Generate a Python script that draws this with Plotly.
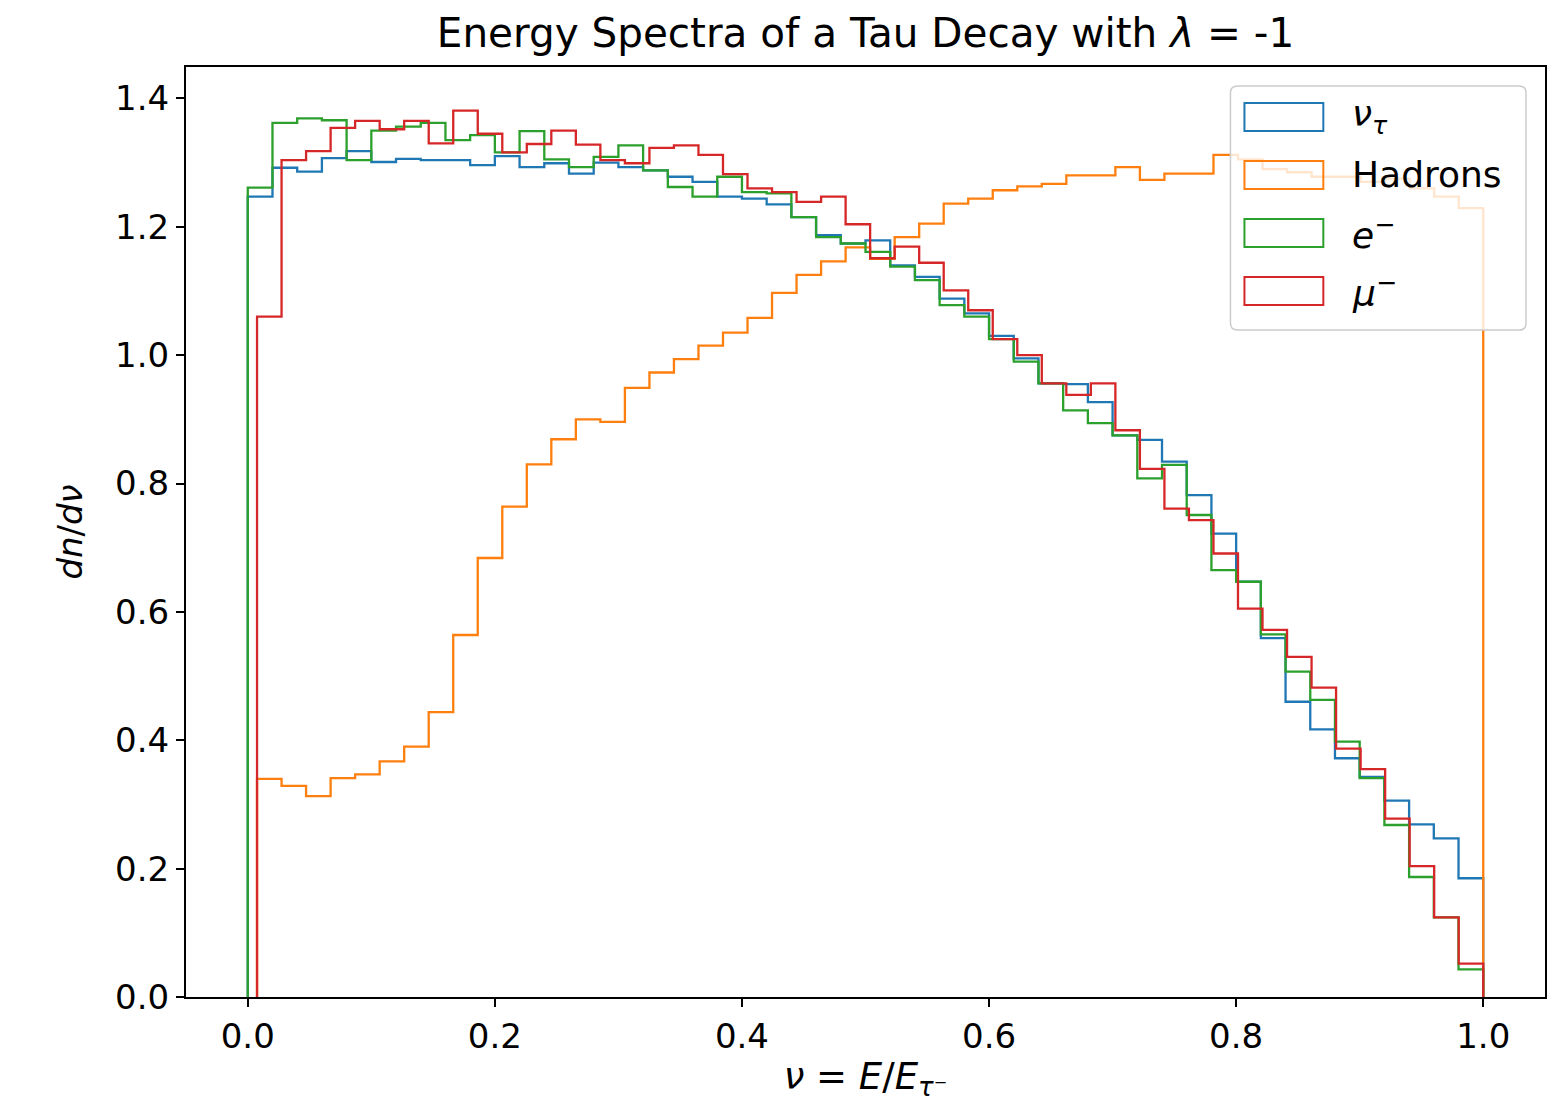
import numpy as np
import plotly.graph_objects as go

# ---------------- data ----------------
n_bins = 50
nu_tau_range = (0.0, 1.0)
hadron_range = (0.0075, 1.0)
electron_range = (0.0, 1.0)
muon_range = (0.0075, 1.0)

nu_tau_vals = [1.247, 1.292, 1.286, 1.307, 1.318, 1.301, 1.306, 1.304, 1.304, 1.296,
               1.310, 1.293, 1.299, 1.283, 1.300, 1.293, 1.288, 1.278, 1.270, 1.247,
               1.244, 1.235, 1.215, 1.187, 1.174, 1.179, 1.140, 1.122, 1.088, 1.065,
               1.030, 0.995, 0.956, 0.955, 0.927, 0.875, 0.868, 0.834, 0.782, 0.722,
               0.647, 0.559, 0.460, 0.417, 0.372, 0.343, 0.306, 0.269, 0.247, 0.185]

hadron_vals = [0.340, 0.329, 0.313, 0.341, 0.347, 0.367, 0.390, 0.444, 0.564, 0.684,
               0.764, 0.830, 0.869, 0.900, 0.896, 0.949, 0.973, 0.994, 1.015, 1.035,
               1.058, 1.097, 1.125, 1.146, 1.168, 1.150, 1.184, 1.205, 1.236, 1.244,
               1.257, 1.263, 1.267, 1.280, 1.280, 1.293, 1.273, 1.283, 1.283, 1.312,
               1.305, 1.290, 1.285, 1.278, 1.278, 1.270, 1.275, 1.260, 1.247, 1.229]

electron_vals = [1.261, 1.362, 1.369, 1.366, 1.304, 1.350, 1.356, 1.362, 1.335, 1.343,
                 1.316, 1.349, 1.305, 1.293, 1.309, 1.327, 1.288, 1.262, 1.247, 1.278,
                 1.254, 1.252, 1.215, 1.184, 1.174, 1.161, 1.138, 1.117, 1.078, 1.060,
                 1.025, 0.990, 0.956, 0.914, 0.894, 0.875, 0.808, 0.829, 0.751, 0.665,
                 0.647, 0.565, 0.507, 0.463, 0.398, 0.341, 0.268, 0.187, 0.124, 0.043]

muon_vals = [1.060, 1.304, 1.318, 1.354, 1.365, 1.352, 1.365, 1.330, 1.381, 1.345,
             1.316, 1.329, 1.350, 1.328, 1.304, 1.299, 1.323, 1.327, 1.312, 1.282,
             1.260, 1.254, 1.239, 1.247, 1.204, 1.151, 1.169, 1.144, 1.101, 1.070,
             1.025, 1.000, 0.956, 0.938, 0.956, 0.883, 0.823, 0.761, 0.743, 0.691,
             0.605, 0.572, 0.530, 0.482, 0.387, 0.355, 0.278, 0.204, 0.124, 0.052]

series_names = ["<i>ν</i><sub><i>τ</i></sub>", "Hadrons", "<i>e</i><sup>−</sup>", "<i>μ</i><sup>−</sup>"]
series_colors = ["#1f77b4", "#ff7f0e", "#2ca02c", "#d62728"]
x_ticks = [0.0, 0.2, 0.4, 0.6, 0.8, 1.0]
x_tick_labels = ["0.0", "0.2", "0.4", "0.6", "0.8", "1.0"]
y_ticks = [0.0, 0.2, 0.4, 0.6, 0.8, 1.0, 1.2, 1.4]
y_tick_labels = ["0.0", "0.2", "0.4", "0.6", "0.8", "1.0", "1.2", "1.4"]

# ---------------- figure ----------------
W, H = 1557, 1115
ML, MR, MT, MB = 186, 10, 67, 118
PW, PH = W - ML - MR, H - MT - MB

def px2x(px):
    return (px - ML) / PW

def py2y(py):
    return (H - MB - py) / PH

fig = go.Figure()

def step_trace(rng, vals, color, name):
    edges = np.linspace(rng[0], rng[1], n_bins + 1)
    xs = [edges[0]] + list(edges[:-1]) + [edges[-1], edges[-1]]
    ys = [0.0] + list(vals) + [vals[-1], 0.0]
    return go.Scatter(x=xs, y=ys, mode="lines", line=dict(color=color, width=2.3, shape="hv"),
                      name=name, showlegend=False, hoverinfo="skip")

all_series = [(nu_tau_range, nu_tau_vals), (hadron_range, hadron_vals),
              (electron_range, electron_vals), (muon_range, muon_vals)]
for (rng, vals), c, n in zip(all_series, series_colors, series_names):
    fig.add_trace(step_trace(rng, vals, c, n))

font_family = "DejaVu Sans"

fig.update_layout(
    width=W, height=H,
    margin=dict(l=ML, r=MR, t=MT, b=MB, pad=0),
    paper_bgcolor="white", plot_bgcolor="white",
    title=dict(text="Energy Spectra of a Tau Decay with <i>λ</i> = -1",
               font=dict(family=font_family, size=40.5, color="black"),
               x=0.5, xref="paper", xanchor="center",
               y=1 - 33 / H, yref="container", yanchor="middle"),
    xaxis=dict(range=[-0.05, 1.05], tickvals=x_ticks, ticktext=x_tick_labels,
               ticks="outside", ticklen=8, tickwidth=2, tickcolor="black",
               showline=True, linewidth=2, linecolor="black", mirror=True,
               showgrid=False, zeroline=False,
               tickfont=dict(family=font_family, size=34, color="black"),
               title=dict(text="<i>ν</i> = <i>E</i>/<i>E</i><sub><i>τ</i>⁻</sub>",
                          font=dict(family=font_family, size=37, color="black"),
                          standoff=8)),
    yaxis=dict(range=[0, 1.449], tickvals=y_ticks, ticktext=y_tick_labels,
               ticks="outside", ticklen=8, tickwidth=2, tickcolor="black",
               showline=True, linewidth=2, linecolor="black", mirror=True,
               showgrid=False, zeroline=False,
               tickfont=dict(family=font_family, size=34, color="black"),
               title=dict(text="<i>dn</i>/<i>dν</i>",
                          font=dict(family=font_family, size=34, color="black"),
                          standoff=22)),
)

# legend (drawn manually to mimic outlined patches)
lx0, lx1, ly0, ly1 = 1232, 1528, 86, 330
r = 7
x0, x1 = px2x(lx0), px2x(lx1)
y0, y1 = py2y(ly1), py2y(ly0)
rx, ry = r / PW, r / PH
path = (f"M{x0+rx},{y0} L{x1-rx},{y0} Q{x1},{y0} {x1},{y0+ry} L{x1},{y1-ry} "
        f"Q{x1},{y1} {x1-rx},{y1} L{x0+rx},{y1} Q{x0},{y1} {x0},{y1-ry} "
        f"L{x0},{y0+ry} Q{x0},{y0} {x0+rx},{y0} Z")
fig.add_shape(type="path", path=path, xref="paper", yref="paper", layer="above",
              fillcolor="rgba(255,255,255,0.8)", line=dict(color="#cccccc", width=1.5))

entry_centers = [117, 175, 233, 291]
for cy, c, n in zip(entry_centers, series_colors, series_names):
    fig.add_shape(type="rect", xref="paper", yref="paper", layer="above",
                  x0=px2x(1246), x1=px2x(1325), y0=py2y(cy + 14), y1=py2y(cy - 14),
                  line=dict(color=c, width=2), fillcolor="rgba(0,0,0,0)")
    fig.add_annotation(text=n, xref="paper", yref="paper", x=px2x(1352), y=py2y(cy),
                       xanchor="left", yanchor="middle", showarrow=False,
                       font=dict(family=font_family, size=36, color="black"))

fig.write_html("out.html")
